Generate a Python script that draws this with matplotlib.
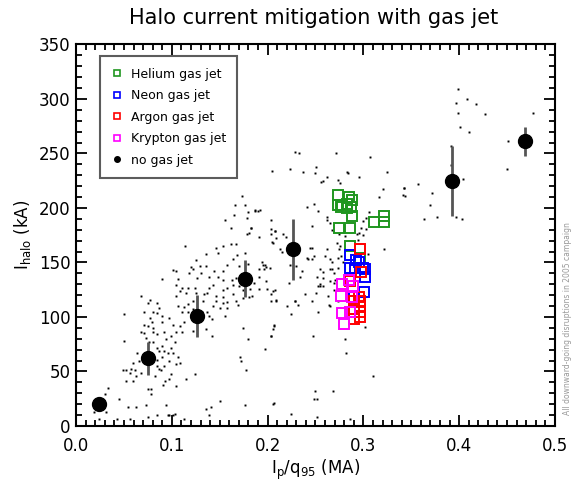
import numpy as np
import matplotlib.pyplot as plt
from matplotlib.lines import Line2D
from matplotlib.ticker import MultipleLocator

# binned averages of the no-gas-jet disruptions
avg_x = [0.024, 0.075, 0.126, 0.176, 0.227, 0.393, 0.469]
avg_y = [20, 62, 101, 135, 162, 225, 261]
avg_err = [0, 15, 19, 17, 28, 32, 13]

# gas jet shots
helium_x = [0.274, 0.285, 0.288, 0.274, 0.278, 0.283, 0.277, 0.287, 0.283, 0.288,
            0.275, 0.286, 0.311, 0.322, 0.322, 0.286, 0.296]
helium_y = [212, 210, 207, 203, 203, 204, 201, 201, 200, 193,
            182, 182, 187, 193, 187, 165, 154]
neon_x = [0.286, 0.292, 0.295, 0.286, 0.302, 0.302, 0.301, 0.291, 0.300, 0.290]
neon_y = [157, 152, 150, 145, 144, 137, 123, 145, 145, 118]
argon_x = [0.296, 0.298, 0.286, 0.295, 0.297, 0.297, 0.297, 0.297, 0.290, 0.290, 0.290]
argon_y = [162, 141, 133, 118, 115, 110, 105, 100, 115, 107, 98]
krypton_x = [0.278, 0.277, 0.278, 0.280, 0.289, 0.288, 0.286, 0.285]
krypton_y = [130, 119, 104, 94, 128, 118, 105, 134]

# all downward-going disruptions (no gas jet)
bg_pts = [
    (0.173, 211), (0.166, 203), (0.176, 203), (0.180, 196), (0.187, 198), (0.192, 198),
    (0.165, 194), (0.178, 191), (0.155, 189), (0.204, 189), (0.162, 182), (0.183, 182),
    (0.181, 177), (0.208, 179), (0.178, 176), (0.191, 173), (0.205, 169), (0.204, 176),
    (0.162, 167), (0.167, 167), (0.153, 165), (0.146, 163), (0.114, 165), (0.148, 159),
    (0.136, 158), (0.176, 159), (0.168, 157), (0.164, 153), (0.125, 152), (0.158, 148),
    (0.170, 147), (0.180, 149), (0.195, 148), (0.198, 146), (0.202, 145), (0.191, 144),
    (0.120, 146), (0.129, 147), (0.136, 147), (0.101, 143), (0.104, 142), (0.144, 142),
    (0.153, 142), (0.106, 135), (0.090, 135), (0.122, 144), (0.118, 140), (0.130, 140),
    (0.126, 136), (0.139, 137), (0.148, 137), (0.153, 134), (0.163, 134), (0.167, 136),
    (0.198, 133), (0.208, 125), (0.191, 126), (0.182, 126), (0.186, 131), (0.104, 129),
    (0.111, 127), (0.117, 127), (0.124, 127), (0.143, 129), (0.137, 122), (0.139, 127),
    (0.153, 125), (0.158, 127), (0.164, 129), (0.170, 128), (0.174, 125), (0.164, 121),
    (0.153, 118), (0.146, 119), (0.134, 121), (0.125, 122), (0.115, 122), (0.104, 119),
    (0.108, 124), (0.146, 115), (0.153, 113), (0.158, 114), (0.167, 115), (0.174, 117),
    (0.181, 118), (0.184, 119), (0.169, 111), (0.150, 108), (0.158, 108), (0.143, 110),
    (0.133, 115), (0.122, 115), (0.117, 112), (0.106, 110), (0.111, 105), (0.117, 105),
    (0.122, 107), (0.132, 105), (0.137, 105), (0.139, 101), (0.142, 98), (0.136, 89),
    (0.132, 101), (0.127, 98), (0.122, 87), (0.113, 95), (0.108, 92), (0.101, 93),
    (0.099, 83), (0.104, 86), (0.111, 86), (0.097, 99), (0.090, 101), (0.087, 108),
    (0.084, 113), (0.077, 116), (0.068, 119), (0.075, 113), (0.071, 105), (0.080, 105),
    (0.085, 104), (0.090, 95), (0.092, 86), (0.094, 80), (0.090, 73), (0.084, 84),
    (0.080, 86), (0.080, 90), (0.079, 95), (0.077, 99), (0.075, 92), (0.071, 93),
    (0.068, 86), (0.071, 85), (0.073, 81), (0.076, 77), (0.080, 77), (0.084, 72),
    (0.087, 69), (0.092, 69), (0.096, 67), (0.099, 72), (0.103, 77), (0.101, 67),
    (0.106, 63), (0.097, 60), (0.104, 57), (0.108, 58), (0.090, 63), (0.085, 61),
    (0.084, 55), (0.064, 67), (0.066, 60), (0.059, 58), (0.057, 52), (0.049, 51),
    (0.052, 51), (0.056, 49), (0.061, 51), (0.063, 46), (0.059, 41), (0.052, 41),
    (0.050, 78), (0.050, 103), (0.068, 49), (0.075, 34), (0.078, 34), (0.078, 29),
    (0.082, 46), (0.087, 52), (0.089, 51), (0.092, 55), (0.099, 48), (0.097, 43),
    (0.104, 37), (0.093, 41), (0.115, 43), (0.124, 48), (0.113, 109), (0.179, 80),
    (0.171, 63), (0.172, 60), (0.177, 51), (0.176, 19), (0.174, 90), (0.197, 71),
    (0.207, 92), (0.204, 83), (0.142, 83), (0.155, 101), (0.091, 38), (0.094, 19),
    (0.097, 10), (0.096, 10), (0.101, 10), (0.103, 11), (0.084, 10), (0.075, 8),
    (0.056, 6), (0.024, 6), (0.019, 13), (0.030, 29), (0.033, 35), (0.031, 13),
    (0.045, 25), (0.054, 17), (0.063, 17), (0.073, 19), (0.043, 6), (0.113, 6),
    (0.136, 16), (0.141, 17), (0.150, 23), (0.139, 10), (0.206, 20),
    (0.229, 251), (0.233, 250), (0.271, 250), (0.307, 247), (0.205, 234), (0.223, 236),
    (0.237, 233), (0.250, 232), (0.251, 238), (0.262, 228), (0.256, 224), (0.258, 225),
    (0.274, 226), (0.276, 223), (0.283, 233), (0.284, 232), (0.295, 228), (0.325, 233),
    (0.342, 218), (0.341, 212), (0.321, 217), (0.316, 210), (0.306, 196), (0.303, 191),
    (0.300, 188), (0.298, 182), (0.303, 181), (0.293, 176), (0.294, 171), (0.275, 176),
    (0.272, 168), (0.276, 165), (0.275, 162), (0.277, 156), (0.274, 154), (0.279, 150),
    (0.262, 162), (0.260, 156), (0.265, 153), (0.267, 150), (0.255, 144), (0.258, 136),
    (0.252, 137), (0.265, 144), (0.269, 140), (0.265, 133), (0.269, 125), (0.258, 128),
    (0.263, 119), (0.273, 115), (0.241, 201), (0.248, 204), (0.253, 197), (0.262, 189),
    (0.265, 186), (0.267, 180), (0.262, 192), (0.246, 183), (0.246, 153), (0.248, 156),
    (0.242, 153), (0.236, 142), (0.241, 154), (0.246, 163), (0.244, 163), (0.216, 176),
    (0.219, 173), (0.204, 181), (0.208, 179), (0.209, 172), (0.206, 168), (0.213, 162),
    (0.215, 160), (0.194, 150), (0.197, 148), (0.196, 144), (0.191, 137), (0.223, 148),
    (0.230, 147), (0.234, 137), (0.222, 131), (0.239, 121), (0.251, 122), (0.255, 128),
    (0.229, 115), (0.220, 110), (0.199, 126), (0.204, 121), (0.209, 116), (0.187, 197),
    (0.190, 197), (0.183, 182),
    (0.281, 174), (0.295, 177), (0.300, 175), (0.322, 162), (0.305, 158), (0.274, 145),
    (0.267, 144), (0.270, 134), (0.269, 131), (0.255, 130), (0.253, 128), (0.258, 141),
    (0.206, 124), (0.209, 115), (0.204, 115), (0.229, 115), (0.246, 115), (0.232, 111),
    (0.265, 110), (0.264, 111), (0.224, 103), (0.253, 105), (0.207, 93), (0.206, 89),
    (0.204, 83), (0.247, 83), (0.302, 91), (0.281, 80), (0.282, 67), (0.310, 46),
    (0.249, 32), (0.268, 32), (0.248, 25), (0.252, 25), (0.207, 21), (0.224, 11),
    (0.252, 8), (0.286, 6),
    (0.399, 309), (0.397, 296), (0.408, 300), (0.418, 295), (0.399, 287), (0.427, 286),
    (0.401, 274), (0.410, 270), (0.477, 287), (0.451, 261), (0.392, 257), (0.450, 236),
    (0.392, 239), (0.404, 227), (0.342, 218), (0.343, 211), (0.357, 222), (0.372, 214),
    (0.370, 203), (0.363, 190), (0.377, 192), (0.397, 192), (0.403, 190),
]

bg_x, bg_y = np.array(bg_pts).T

fig = plt.figure(figsize=(5.81, 4.83), dpi=100)
ax = fig.add_axes([0.131, 0.118, 0.824, 0.79])

ax.plot(bg_x, bg_y, 's', color='black', markersize=1.4, markeredgewidth=0)

sq = dict(marker='s', linestyle='none', markersize=6.5, markerfacecolor='none', markeredgewidth=1.4)
ax.plot(helium_x, helium_y, color='#1f961f', **sq)
ax.plot(neon_x, neon_y, color='#0000ff', **sq)
ax.plot(argon_x, argon_y, color='#ff0000', **sq)
ax.plot(krypton_x, krypton_y, color='#ff00ff', **sq)

ax.errorbar(avg_x, avg_y, yerr=avg_err, fmt='none', ecolor='#555555', elinewidth=2, capsize=0)
ax.plot(avg_x, avg_y, 'o', color='black', markersize=10)

ax.set_xlim(0, 0.5)
ax.set_ylim(0, 350)
ax.xaxis.set_major_locator(MultipleLocator(0.1))
ax.xaxis.set_minor_locator(MultipleLocator(0.01))
ax.yaxis.set_major_locator(MultipleLocator(50))
ax.yaxis.set_minor_locator(MultipleLocator(10))
ax.xaxis.set_major_formatter(plt.FormatStrFormatter('%.1f'))
ax.tick_params(which='both', direction='in', top=True, right=True, width=1.3, labelsize=12)
ax.tick_params(which='major', length=8)
ax.tick_params(axis='x', which='major', pad=8)
ax.tick_params(axis='y', which='major', pad=4)
ax.tick_params(which='minor', length=4)
for s in ax.spines.values():
    s.set_linewidth(1.5)

ax.set_xlabel(r'I$_\mathrm{p}$/q$_\mathrm{95}$ (MA)', fontsize=12, labelpad=2)
ax.set_ylabel(r'I$_\mathrm{halo}$ (kA)', fontsize=12, labelpad=4)
fig.text(0.54, 0.963, 'Halo current mitigation with gas jet', ha='center', va='center', fontsize=15)
fig.text(0.976, 0.34, 'All downward-going disruptions in 2005 campaign', rotation=90,
         ha='center', va='center', fontsize=5.5, color='#999999')

handles = [
    Line2D([], [], marker='s', linestyle='none', markersize=4.5, markerfacecolor='none', markeredgewidth=1.2, color='#1f961f'),
    Line2D([], [], marker='s', linestyle='none', markersize=4.5, markerfacecolor='none', markeredgewidth=1.2, color='#0000ff'),
    Line2D([], [], marker='s', linestyle='none', markersize=4.5, markerfacecolor='none', markeredgewidth=1.2, color='#ff0000'),
    Line2D([], [], marker='s', linestyle='none', markersize=4.5, markerfacecolor='none', markeredgewidth=1.2, color='#ff00ff'),
    Line2D([], [], marker='o', linestyle='none', markersize=4, color='black'),
]
labels = ['Helium gas jet', 'Neon gas jet', 'Argon gas jet', 'Krypton gas jet', 'no gas jet']
leg = ax.legend(handles, labels, loc='upper left', bbox_to_anchor=(0.036, 0.985), fontsize=9,
                frameon=True, fancybox=False, edgecolor='#333333', handlelength=1.0,
                handletextpad=0.6, labelspacing=0.68, borderpad=0.9)
leg.get_frame().set_linewidth(1.5)

fig.savefig('out.png', dpi=100)
